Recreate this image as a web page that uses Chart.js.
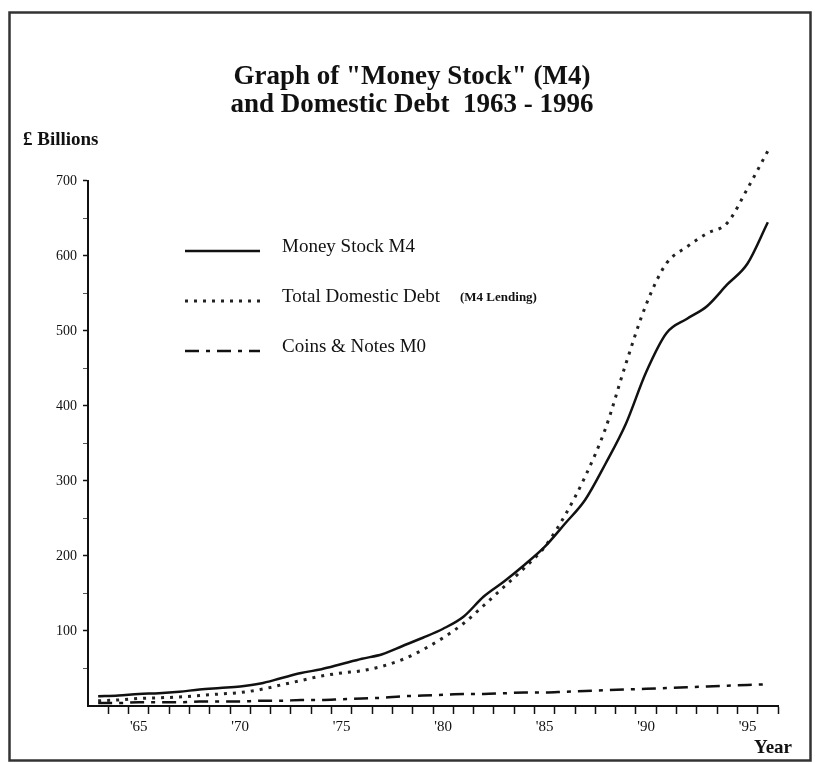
<!DOCTYPE html>
<html>
<head>
<meta charset="utf-8">
<script src="https://cdn.jsdelivr.net/npm/chart.js@4.4.0/dist/chart.umd.min.js"></script>
<style>html,body{margin:0;padding:0;background:#fff;}canvas{display:block;}</style>
</head>
<body>
<canvas id="c" width="815" height="763"></canvas>
<script>
// ---- data ----
const years = [1963,1964,1965,1966,1967,1968,1969,1970,1971,1972,1973,1974,1975,1976,1977,1978,1979,1980,1981,1982,1983,1984,1985,1986,1987,1988,1989,1990,1991,1992,1993,1994,1995,1996];
const moneyStockM4 = [13,14,16,17,19,22,24,26,30,37,44,49,56,63,69,80,91,103,119,146,166,188,212,243,275,323,376,445,497,516,533,562,590,645];
const totalDomesticDebt = [7,8,10,11,12,14,16,18,22,28,34,40,44,47,53,62,75,91,110,134,159,184,212,254,306,370,456,535,590,612,630,644,690,740];
const coinsNotesM0 = [4,4,5,5,5,6,6,6,7,7,8,8,9,10,11,13,14,15,16,16,17,18,18,19,20,21,22,23,24,25,26,27,28,29];
const xTickLabelYears = [1965,1970,1975,1980,1985,1990,1995];
const yTickLabels = [100,200,300,400,500,600,700];
const titleLines = ['Graph of "Money Stock" (M4)', 'and Domestic Debt  1963 - 1996'];
const yUnitLabel = '£ Billions';
const xUnitLabel = 'Year';
const seriesLabels = ['Money Stock M4', 'Total Domestic Debt', 'Coins & Notes M0'];
const seriesNotes = ['', '(M4 Lending)', ''];

const SERIF = "'Liberation Serif', 'Times New Roman', serif";
const toPts = arr => years.map((yr, i) => ({x: yr, y: arr[i]}));

const framePlugin = {
  id: 'frame',
  beforeDraw(chart) {
    const c = chart.ctx; c.save(); c.fillStyle = '#fff'; c.fillRect(0, 0, chart.width, chart.height); c.restore();
  },
  afterDraw(chart) {
    const c = chart.ctx; c.save(); c.strokeStyle = '#333'; c.lineWidth = 2.5;
    c.strokeRect(9.5, 12.5, 801, 748); c.restore();
  }
};

const annotatePlugin = {
  id: 'annot',
  afterDraw(chart) {
    const {ctx, chartArea: a} = chart;
    ctx.save();
    ctx.fillStyle = '#111';
    ctx.font = 'bold 19px ' + SERIF;
    ctx.textAlign = 'right'; ctx.textBaseline = 'middle';
    ctx.fillText(xUnitLabel, a.right + 14, a.bottom + 42);
    chart.data.datasets.forEach((ds, i) => {
      const ty = a.top + 66 + i * 50;
      const x0 = a.left + 97;
      ctx.save();
      ctx.strokeStyle = ds.borderColor; ctx.lineWidth = ds.borderWidth;
      ctx.setLineDash(ds.borderDash || []); ctx.lineCap = 'butt';
      ctx.beginPath(); ctx.moveTo(x0, ty + 4); ctx.lineTo(x0 + 75, ty + 4); ctx.stroke();
      ctx.restore();
      ctx.font = '19px ' + SERIF; ctx.textAlign = 'left'; ctx.textBaseline = 'middle';
      ctx.fillText(ds.label, x0 + 97, ty);
      if (seriesNotes[i]) {
        const w = ctx.measureText(ds.label).width;
        ctx.font = 'bold 13px ' + SERIF;
        ctx.fillText(seriesNotes[i], x0 + 97 + w + 20, ty + 1);
      }
    });
    ctx.restore();
  }
};

new Chart(document.getElementById('c'), {
  type: 'line',
  data: {
    datasets: [
      {label: seriesLabels[0], data: toPts(moneyStockM4), borderColor: '#111', borderWidth: 2.5, pointRadius: 0, cubicInterpolationMode: 'monotone', clip: false, fill: false},
      {label: seriesLabels[1], data: toPts(totalDomesticDebt), borderColor: '#222', borderWidth: 3, borderDash: [3, 6], pointRadius: 0, cubicInterpolationMode: 'monotone', clip: false, fill: false},
      {label: seriesLabels[2], data: toPts(coinsNotesM0), borderColor: '#111', borderWidth: 2.5, borderDash: [14, 7, 4, 7], pointRadius: 0, cubicInterpolationMode: 'monotone', clip: false, fill: false}
    ]
  },
  options: {
    responsive: false, animation: false, devicePixelRatio: 1,
    layout: {padding: {left: 23, right: 14, top: 50, bottom: 0}},
    plugins: {
      legend: {display: false},
      tooltip: {enabled: false},
      title: {display: true, text: titleLines, color: '#111', font: {family: SERIF, size: 27, weight: 'bold', lineHeight: 1.04}, padding: {top: 13, bottom: 10}},
      subtitle: {display: true, text: yUnitLabel, align: 'start', color: '#111', font: {family: SERIF, size: 19, weight: 'bold', lineHeight: 1.2}, padding: {top: 0, bottom: 29}}
    },
    scales: {
      x: {
        type: 'linear', min: 1962.5, max: 1996.5,
        afterBuildTicks: s => { const t = []; for (let v = 1962.5; v <= 1996.5; v += 0.5) t.push({value: v}); s.ticks = t; },
        afterFit: s => { s.height = 57; },
        border: {display: true, color: '#111', width: 2},
        grid: {display: true, drawOnChartArea: false, drawTicks: true, tickLength: 8, tickWidth: 1.5,
          tickColor: c => (c.tick && c.tick.value % 1 !== 0 && c.tick.value > 1963) ? '#111' : 'rgba(0,0,0,0)'},
        ticks: {autoSkip: false, maxRotation: 0, minRotation: 0, padding: 4, color: '#111', font: {family: SERIF, size: 15},
          callback: v => xTickLabelYears.includes(v) ? "'" + String(v).slice(2) : ''}
      },
      y: {
        min: 0, max: 700,
        afterBuildTicks: s => { const t = []; for (let v = 0; v <= 700; v += 50) t.push({value: v}); s.ticks = t; },
        afterFit: s => { s.width = 65; },
        border: {display: true, color: '#111', width: 2},
        grid: {display: true, drawOnChartArea: false, drawTicks: true, tickLength: 5,
          tickWidth: c => (c.tick && c.tick.value % 100 === 0) ? 1.5 : 1,
          tickColor: c => (!c.tick || c.tick.value === 0) ? 'rgba(0,0,0,0)' : (c.tick.value % 100 === 0 ? '#111' : '#555')},
        ticks: {autoSkip: false, padding: 6, color: '#111', font: {family: SERIF, size: 14},
          callback: v => yTickLabels.includes(v) ? String(v) : ''}
      },
      yR: {
        position: 'right', min: 0, max: 700,
        grid: {display: false}, border: {display: false}, ticks: {display: false},
        afterFit: s => { s.width = 23; }
      }
    }
  },
  plugins: [framePlugin, annotatePlugin]
});
</script>
</body>
</html>
